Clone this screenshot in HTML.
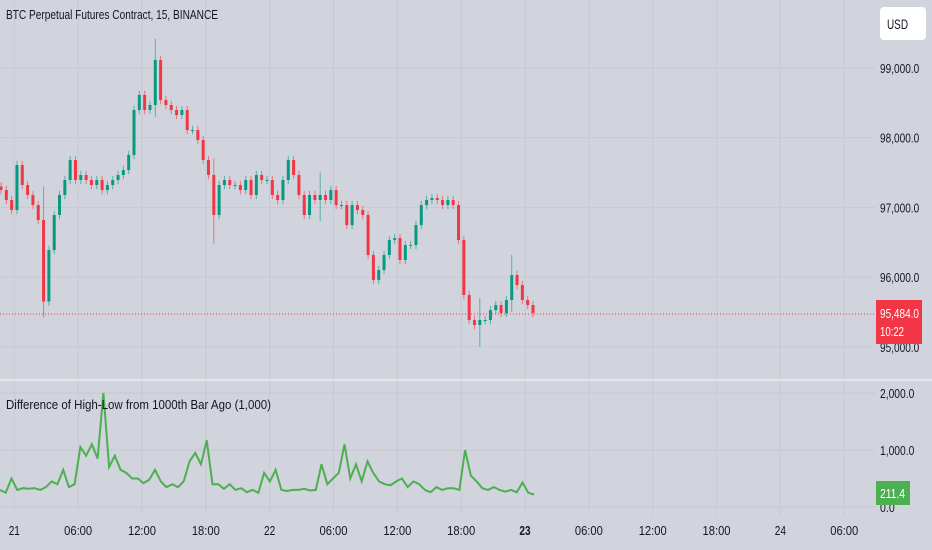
<!DOCTYPE html>
<html><head><meta charset="utf-8"><style>
body{margin:0;background:#d1d4dc;font-family:"Liberation Sans",sans-serif;}
svg{display:block}
</style></head><body>
<svg width="932" height="550" id="c">
<rect width="932" height="550" fill="#d1d4dc"/>
<g id="grid"></g>
<g id="candles"></g>
<g id="ind"></g>
<line x1="0" y1="380" x2="932" y2="380" stroke="#e4e6ec" stroke-width="2"/>
<line x1="0" y1="314" x2="875" y2="314" stroke="#f23645" stroke-dasharray="1,2"/>
<g id="axes"></g>
<text x="6" y="19" font-size="13" fill="#131722" textLength="212" lengthAdjust="spacingAndGlyphs">BTC Perpetual Futures Contract, 15, BINANCE</text>
<text x="6" y="409" font-size="13" fill="#131722" textLength="265" lengthAdjust="spacingAndGlyphs">Difference of High-Low from 1000th Bar Ago (1,000)</text>
<rect x="880" y="7" width="46" height="33" rx="4" fill="#fff"/>
<text x="887" y="29" font-size="14" fill="#131722" textLength="21" lengthAdjust="spacingAndGlyphs">USD</text>
<rect x="876" y="300" width="46" height="44" fill="#f23645"/>
<text x="880" y="318" font-size="13" fill="#fff" textLength="39" lengthAdjust="spacingAndGlyphs">95,484.0</text>
<text x="880" y="336" font-size="13" fill="#fff" textLength="24" lengthAdjust="spacingAndGlyphs">10:22</text>
<rect x="876" y="481" width="34" height="24" fill="#4caf50"/>
<text x="880" y="498" font-size="13" fill="#fff" textLength="25" lengthAdjust="spacingAndGlyphs">211.4</text>
</svg>
<script>
const closes=[97249,97106,96962,97608,97321,97178,97034,96819,95650,96388,96891,97178,97393,97680,97393,97465,97393,97321,97393,97249,97321,97393,97465,97536,97752,98397,98613,98397,98469,99115,98541,98469,98397,98326,98397,98110,98110,97967,97680,97465,96891,97321,97393,97321,97321,97249,97393,97178,97465,97393,97393,97178,97106,97393,97680,97465,97178,96891,97178,97106,97178,97106,97249,97034,97034,96747,97034,96962,96891,96317,95958,96101,96317,96532,96560,96245,96460,96460,96747,97034,97106,97134,97106,97034,97106,97034,96532,95743,95384,95312,95384,95384,95527,95599,95484,95671,96030,95886,95671,95599,95484];
const openFirst=97300;
const spikeBars=[8,29,40,60,90,96];
const spikeHighs=[97300,99420,97700,97500,95700,96320];
const spikeLows=[95420,98300,96480,96800,95000,95500];
const indValues=[300,250,500,300,330,320,330,300,350,450,400,650,350,400,1050,900,1100,850,2000,700,900,650,600,500,500,420,480,650,450,350,400,350,450,800,950,750,1170,400,400,320,400,300,330,260,300,250,600,450,650,300,280,300,300,320,290,300,750,400,500,600,1100,500,750,450,800,600,450,400,380,450,500,350,450,400,300,260,350,300,330,330,300,1000,550,450,330,300,350,300,270,300,260,430,250,220];
const priceTicks=[99000,98000,97000,96000,95000];
const priceTickLabels=["99,000.0","98,000.0","97,000.0","96,000.0","95,000.0"];
const indTicks=[2000,1000,0];
const indTickLabels=["2,000.0","1,000.0","0.0"];
const timeLabels=["21","06:00","12:00","18:00","22","06:00","12:00","18:00","23","06:00","12:00","18:00","24","06:00"];
const timeBarIdx=[2.5,14.5,26.5,38.5,50.5,62.5,74.5,86.5,98.5,110.5,122.5,134.5,146.5,158.5];

const NS="http://www.w3.org/2000/svg";
function mk(t,a,p){const e=document.createElementNS(NS,t);for(const k in a)e.setAttribute(k,a[k]);p.appendChild(e);return e;}
const xBar=i=>1+i*5.32;
const yP=p=>68+(99000-p)*0.0697;
const yI=v=>507-v*0.057;
const xInd=i=>i*534/(indValues.length-1);
const grid=document.getElementById('grid'),cg=document.getElementById('candles'),ig=document.getElementById('ind'),ag=document.getElementById('axes');
const tw=s=>s.length*4.9;
priceTicks.forEach((p,k)=>{
 const l=mk('line',{x1:0,x2:875,y1:yP(p),y2:yP(p),stroke:'#c6c9d1'},grid);
 
 
 const t=mk('text',{x:880,y:yP(p)+5,'font-size':13,fill:'#131722',textLength:tw(priceTickLabels[k]),lengthAdjust:'spacingAndGlyphs'},ag);
 t.textContent=priceTickLabels[k];
 
 
});
indTicks.forEach((v,k)=>{
 const l=mk('line',{x1:0,x2:875,y1:yI(v),y2:yI(v),stroke:'#c6c9d1'},grid);
 
 
 const t=mk('text',{x:880,y:yI(v)+5,'font-size':13,fill:'#131722',textLength:tw(indTickLabels[k]),lengthAdjust:'spacingAndGlyphs'},ag);
 t.textContent=indTickLabels[k];
 
 
});
timeLabels.forEach((s,k)=>{
 const x=xBar(timeBarIdx[k]);
 const l=mk('line',{x1:x,x2:x,y1:0,y2:515,stroke:'#c6c9d1'},grid);
 
 
 const t=mk('text',{x:x,y:535,'font-size':13,fill:'#131722','text-anchor':'middle','font-weight':s==='23'?'bold':'normal',textLength:s.length*5.6,lengthAdjust:'spacingAndGlyphs'},ag);
 t.textContent=s;
 
 
});
closes.forEach((c,i)=>{
 const o=i===0?openFirst:closes[i-1];
 let hi=Math.max(o,c)+60,lo=Math.min(o,c)-60;
 const s=spikeBars.indexOf(i);
 if(s>=0){hi=spikeHighs[s];lo=spikeLows[s];}
 const col=c>=o?'#089981':'#f23645';
 const x=xBar(i);
 const w=mk('line',{x1:x,x2:x,y1:yP(hi),y2:yP(lo),stroke:col,'stroke-opacity':0.6},cg);
 
 
 const y1=yP(Math.max(o,c)),y2=yP(Math.min(o,c));
 const b=mk('rect',{x:x-1.5,y:y1,width:3,height:Math.max(1,y2-y1),fill:col},cg);
 
 
});
const pts=indValues.map((v,i)=>xInd(i).toFixed(1)+','+yI(v).toFixed(1)).join(' ');
const pl=mk('polyline',{points:pts,fill:'none',stroke:'#4caf50','stroke-width':2},ig);


</script>
</body></html>
